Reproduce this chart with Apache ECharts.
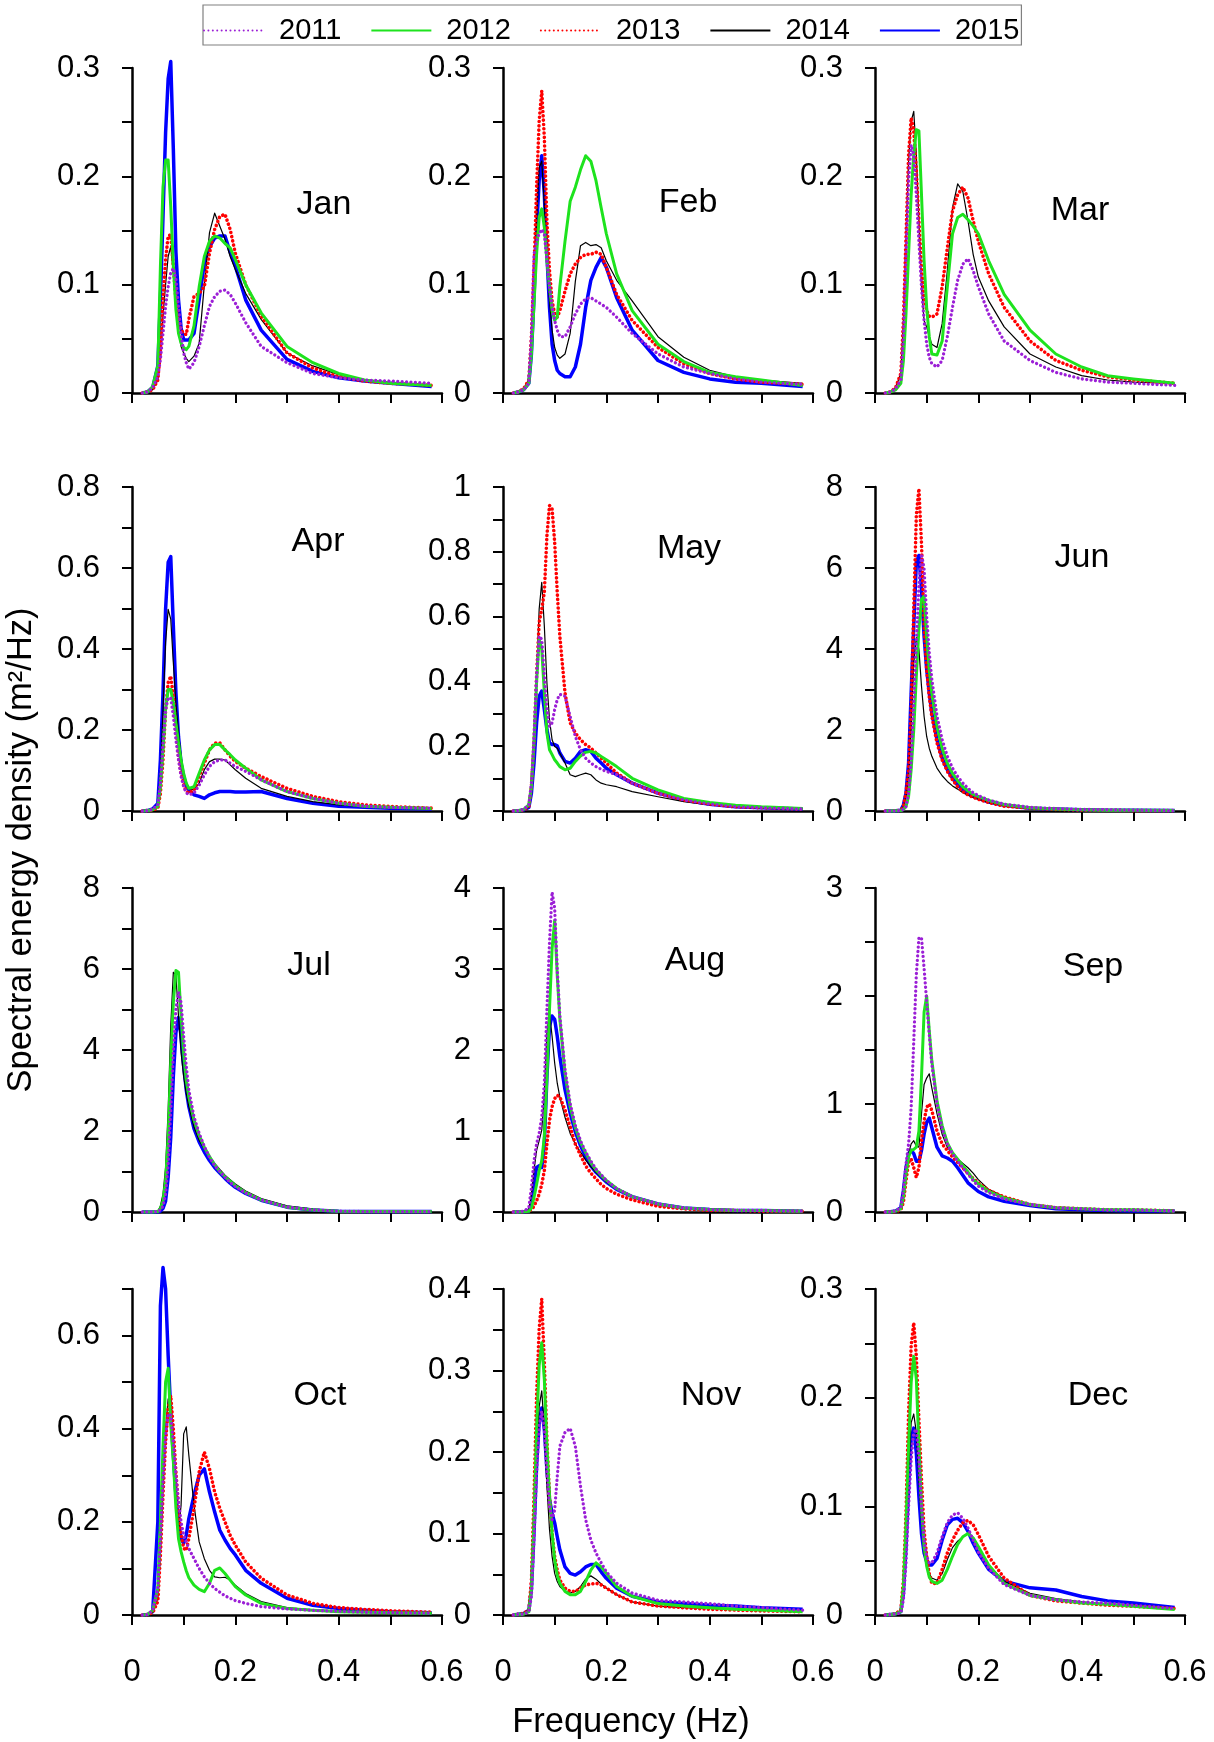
<!DOCTYPE html>
<html><head><meta charset="utf-8">
<script src="https://cdn.jsdelivr.net/npm/echarts@6/dist/echarts.min.js"></script>
<style>html,body{margin:0;padding:0;background:#fff}#c{width:1214px;height:1742px}</style>
</head><body><div id="c"></div>
<script>
// ---------------- DATA ----------------
const FREQ = [0.02,0.03,0.04, 0.05,0.055,0.06,0.065,0.07,0.075,0.08,0.085,0.09,0.095,0.1,0.105,0.11, 0.12,0.13,0.14,0.15,0.16,0.17,0.18,0.19,0.2, 0.22,0.25,0.3,0.35,0.4,0.45,0.5,0.58];
const YEARS = ['2011','2012','2013','2014','2015'];
const MONTHS = ['Jan','Feb','Mar','Apr','May','Jun','Jul','Aug','Sep','Oct','Nov','Dec'];
// each month: rows = 2011, 2012, 2013, 2014, 2015
const JAN = [
 [0,0.001,0.005, 0.015,0.031,0.055,0.08,0.098,0.111,0.115,0.105,0.08,0.055,0.037,0.028,0.022, 0.028,0.043,0.062,0.08,0.089,0.094,0.095,0.091,0.083, 0.065,0.043,0.028,0.018,0.014,0.012,0.011,0.009],
 [0,0.001,0.006, 0.025,0.117,0.19,0.215,0.215,0.172,0.117,0.077,0.055,0.046,0.042,0.04,0.043, 0.062,0.098,0.126,0.14,0.145,0.143,0.138,0.134,0.123, 0.1,0.074,0.043,0.028,0.018,0.012,0.009,0.007],
 [0,0.001,0.003, 0.012,0.04,0.086,0.123,0.145,0.146,0.117,0.086,0.068,0.058,0.055,0.054,0.068, 0.089,0.092,0.098,0.129,0.151,0.163,0.165,0.151,0.129, 0.1,0.071,0.037,0.023,0.015,0.011,0.009,0.007],
 [0,0.001,0.003, 0.012,0.031,0.071,0.1,0.126,0.135,0.111,0.08,0.058,0.043,0.037,0.032,0.029, 0.034,0.046,0.1,0.148,0.166,0.154,0.142,0.126,0.114, 0.092,0.068,0.037,0.025,0.017,0.012,0.009,0.006],
 [0,0.001,0.005, 0.025,0.086,0.163,0.24,0.29,0.306,0.225,0.13,0.086,0.06,0.049,0.049,0.049, 0.055,0.086,0.12,0.135,0.143,0.145,0.145,0.13,0.117, 0.086,0.058,0.031,0.02,0.014,0.011,0.009,0.006]
];
const FEB = [
 [0,0.001,0.003, 0.009,0.052,0.128,0.14,0.147,0.151,0.147,0.122,0.098,0.079,0.067,0.058,0.052, 0.052,0.061,0.073,0.082,0.087,0.088,0.085,0.082,0.079, 0.07,0.055,0.036,0.024,0.018,0.013,0.01,0.008],
 [0,0.001,0.003, 0.009,0.036,0.082,0.128,0.162,0.17,0.153,0.122,0.098,0.076,0.067,0.07,0.098, 0.14,0.177,0.19,0.206,0.219,0.214,0.196,0.171,0.147, 0.11,0.076,0.045,0.029,0.019,0.015,0.012,0.007],
 [0,0.001,0.004, 0.012,0.052,0.113,0.19,0.251,0.279,0.236,0.159,0.113,0.085,0.073,0.07,0.076, 0.094,0.11,0.119,0.125,0.128,0.128,0.13,0.128,0.116, 0.091,0.067,0.042,0.027,0.018,0.013,0.01,0.008],
 [0,0.001,0.004, 0.012,0.042,0.098,0.159,0.208,0.214,0.174,0.122,0.085,0.058,0.042,0.035,0.032, 0.036,0.055,0.103,0.136,0.139,0.136,0.137,0.134,0.122, 0.104,0.085,0.052,0.033,0.021,0.015,0.012,0.009],
 [0,0.001,0.003, 0.009,0.036,0.088,0.15,0.196,0.219,0.183,0.128,0.079,0.045,0.03,0.021,0.018, 0.015,0.015,0.024,0.045,0.079,0.104,0.116,0.125,0.116, 0.088,0.058,0.03,0.019,0.013,0.01,0.009,0.006]
];
const MAR = [
 [0,0.001,0.004, 0.012,0.052,0.128,0.196,0.229,0.22,0.183,0.14,0.098,0.067,0.045,0.033,0.027, 0.024,0.03,0.052,0.079,0.104,0.119,0.124,0.113,0.098, 0.073,0.048,0.03,0.019,0.013,0.01,0.009,0.007],
 [0,0.001,0.003, 0.009,0.03,0.073,0.128,0.183,0.22,0.243,0.242,0.183,0.122,0.079,0.052,0.036, 0.035,0.048,0.098,0.147,0.162,0.165,0.16,0.154,0.147, 0.122,0.091,0.058,0.036,0.024,0.016,0.013,0.009],
 [0,0.001,0.005, 0.018,0.067,0.144,0.22,0.254,0.242,0.205,0.159,0.116,0.088,0.076,0.071,0.07, 0.073,0.098,0.134,0.168,0.183,0.19,0.18,0.159,0.14, 0.11,0.079,0.048,0.03,0.021,0.015,0.012,0.009],
 [0,0.001,0.005, 0.018,0.067,0.144,0.214,0.251,0.26,0.22,0.159,0.098,0.067,0.061,0.052,0.045, 0.042,0.064,0.113,0.171,0.193,0.186,0.159,0.128,0.107, 0.085,0.061,0.036,0.024,0.016,0.012,0.01,0.009],
 []
];
const APR = [
 [0,0.001,0.004, 0.015,0.069,0.168,0.25,0.279,0.279,0.234,0.176,0.126,0.085,0.06,0.045,0.04, 0.044,0.064,0.089,0.11,0.122,0.126,0.126,0.118,0.11, 0.098,0.077,0.048,0.031,0.019,0.012,0.009,0.007],
 [0,0.001,0.003, 0.011,0.06,0.151,0.25,0.3,0.3,0.267,0.217,0.168,0.126,0.093,0.069,0.056, 0.06,0.093,0.126,0.151,0.164,0.164,0.151,0.139,0.126, 0.106,0.077,0.048,0.031,0.019,0.012,0.009,0.006],
 [0,0.001,0.002, 0.007,0.044,0.126,0.25,0.317,0.333,0.283,0.201,0.135,0.093,0.064,0.048,0.044, 0.052,0.085,0.118,0.151,0.168,0.168,0.151,0.135,0.122, 0.106,0.085,0.056,0.036,0.023,0.015,0.011,0.007],
 [0,0.001,0.003, 0.011,0.085,0.25,0.416,0.498,0.474,0.366,0.267,0.193,0.135,0.093,0.069,0.056, 0.052,0.069,0.102,0.122,0.128,0.128,0.126,0.114,0.102, 0.081,0.056,0.036,0.023,0.015,0.011,0.008,0.006],
 [0,0.001,0.005, 0.019,0.126,0.292,0.498,0.614,0.628,0.457,0.292,0.184,0.118,0.085,0.064,0.052, 0.04,0.036,0.031,0.04,0.045,0.048,0.048,0.048,0.047, 0.047,0.048,0.031,0.019,0.012,0.009,0.007,0.005]
];
const MAY = [
 [0,0.001,0.005, 0.019,0.086,0.23,0.416,0.54,0.53,0.416,0.313,0.261,0.272,0.313,0.344,0.36, 0.354,0.292,0.23,0.189,0.163,0.148,0.137,0.129,0.122, 0.112,0.086,0.055,0.034,0.021,0.013,0.01,0.006],
 [0,0.001,0.005, 0.019,0.075,0.21,0.396,0.53,0.499,0.365,0.241,0.189,0.174,0.158,0.148,0.137, 0.127,0.132,0.153,0.17,0.181,0.184,0.179,0.168,0.158, 0.137,0.101,0.065,0.039,0.026,0.018,0.013,0.008],
 [0,0.001,0.003, 0.013,0.075,0.21,0.416,0.582,0.623,0.675,0.85,0.943,0.933,0.83,0.675,0.54, 0.365,0.272,0.241,0.22,0.205,0.194,0.179,0.163,0.148, 0.117,0.086,0.055,0.034,0.022,0.013,0.01,0.006],
 [0,0.001,0.003, 0.013,0.086,0.23,0.416,0.623,0.706,0.571,0.396,0.282,0.22,0.199,0.194,0.179, 0.148,0.112,0.106,0.112,0.117,0.112,0.096,0.086,0.081, 0.075,0.06,0.044,0.029,0.019,0.013,0.01,0.007],
 [0,0.001,0.003, 0.011,0.055,0.148,0.272,0.354,0.37,0.313,0.251,0.21,0.205,0.205,0.201,0.179, 0.153,0.148,0.163,0.184,0.189,0.184,0.163,0.148,0.132, 0.112,0.086,0.055,0.034,0.021,0.013,0.01,0.006]
];
const JUN = [
 [0,0.002,0.005, 0.01,0.04,0.11,0.44,1.26,2.67,4.16,5.56,6.35,5.98,4.82,3.91,3.25, 2.34,1.76,1.35,1.06,0.85,0.69,0.56,0.45,0.38, 0.27,0.17,0.09,0.06,0.04,0.03,0.02,0.01],
 [0,0.002,0.005, 0.01,0.04,0.11,0.36,1.02,2.0,3.33,4.49,5.23,5.3,4.32,3.5,2.92, 2.09,1.55,1.18,0.93,0.75,0.6,0.5,0.41,0.36, 0.26,0.16,0.08,0.05,0.03,0.02,0.02,0.01],
 [0,0.002,0.008, 0.02,0.1,0.44,1.0,2.5,5.0,7.3,7.96,6.6,4.57,3.5,2.83,2.34, 1.68,1.26,0.98,0.77,0.6,0.48,0.4,0.34,0.29, 0.21,0.12,0.07,0.04,0.02,0.02,0.01,0.01],
 [0,0.002,0.008, 0.02,0.11,0.36,0.85,2.09,3.66,4.28,3.99,3.08,2.34,1.84,1.55,1.35, 1.06,0.87,0.73,0.62,0.54,0.45,0.39,0.34,0.29, 0.21,0.14,0.07,0.05,0.03,0.02,0.02,0.01],
 [0,0.002,0.008, 0.02,0.15,0.44,1.18,2.92,4.57,6.14,6.31,5.48,4.32,3.5,2.92,2.42, 1.76,1.31,1.02,0.81,0.64,0.52,0.42,0.36,0.31, 0.22,0.14,0.07,0.05,0.03,0.02,0.02,0.01]
];
const JUL = [
 [0,0.001,0.003, 0.01,0.05,0.15,0.44,1.19,2.52,3.93,5.01,5.42,5.17,4.34,3.6,3.01, 2.35,1.94,1.62,1.35,1.15,1.0,0.86,0.73,0.63, 0.47,0.3,0.12,0.05,0.02,0.01,0.01,0.01],
 [0,0.001,0.003, 0.01,0.09,0.27,0.77,1.85,3.68,5.17,5.96,5.92,4.84,3.93,3.26,2.85, 2.27,1.89,1.6,1.37,1.17,1.0,0.87,0.76,0.65, 0.48,0.3,0.12,0.05,0.02,0.01,0.01,0.01],
 [],
 [0,0.001,0.005, 0.02,0.15,0.44,1.1,2.52,4.59,5.92,5.84,4.84,3.93,3.35,2.93,2.6, 2.1,1.77,1.56,1.37,1.2,1.05,0.91,0.8,0.69, 0.52,0.33,0.15,0.07,0.03,0.02,0.02,0.01],
 [0,0.001,0.002, 0.005,0.02,0.09,0.27,0.86,1.85,3.35,4.43,4.8,4.34,3.6,3.01,2.6, 2.06,1.73,1.48,1.27,1.1,0.96,0.83,0.71,0.61, 0.46,0.29,0.12,0.05,0.02,0.01,0.01,0.01]
];
const AUG = [
 [0,0.002,0.01, 0.05,0.3,0.63,0.84,0.97,1.17,1.59,2.5,3.33,3.95,3.75,3.0,2.42, 1.76,1.34,1.07,0.88,0.74,0.63,0.53,0.46,0.39, 0.29,0.19,0.1,0.05,0.03,0.02,0.02,0.01],
 [0,0.001,0.003, 0.01,0.05,0.18,0.34,0.51,0.63,0.93,1.67,2.5,3.25,3.6,2.92,2.38, 1.71,1.3,1.04,0.86,0.73,0.61,0.52,0.45,0.39, 0.29,0.19,0.1,0.05,0.03,0.02,0.02,0.01],
 [0,0.001,0.002, 0.01,0.03,0.07,0.14,0.22,0.34,0.51,0.84,1.13,1.3,1.4,1.44,1.42, 1.26,1.05,0.84,0.7,0.57,0.48,0.41,0.34,0.29, 0.22,0.15,0.07,0.04,0.02,0.02,0.01,0.01],
 [0,0.002,0.008, 0.03,0.22,0.51,0.76,0.88,1.01,1.46,2.21,2.46,2.17,1.84,1.59,1.42, 1.17,0.97,0.84,0.74,0.64,0.56,0.49,0.43,0.37, 0.28,0.19,0.1,0.05,0.03,0.02,0.02,0.01],
 [0,0.001,0.003, 0.01,0.1,0.34,0.55,0.57,0.55,0.84,1.67,2.29,2.42,2.38,2.17,1.92, 1.51,1.22,0.99,0.82,0.68,0.57,0.49,0.43,0.37, 0.28,0.19,0.1,0.05,0.03,0.02,0.02,0.01]
];
const SEP = [
 [0,0.002,0.01, 0.04,0.2,0.44,0.63,0.97,1.58,2.2,2.54,2.54,2.26,1.95,1.65,1.37, 1.0,0.77,0.63,0.54,0.47,0.41,0.35,0.29,0.24, 0.18,0.12,0.07,0.04,0.03,0.02,0.02,0.01],
 [0,0.001,0.008, 0.03,0.14,0.35,0.51,0.57,0.58,0.6,0.75,1.25,1.85,2.0,1.68,1.4, 1.03,0.8,0.64,0.55,0.49,0.43,0.37,0.3,0.26, 0.19,0.13,0.07,0.04,0.03,0.02,0.02,0.01],
 [0,0.001,0.005, 0.02,0.09,0.29,0.46,0.49,0.41,0.32,0.41,0.66,0.84,0.97,1.0,0.94, 0.75,0.63,0.57,0.51,0.46,0.41,0.36,0.31,0.27, 0.2,0.14,0.07,0.04,0.03,0.02,0.02,0.01],
 [0,0.001,0.008, 0.03,0.17,0.38,0.54,0.63,0.66,0.61,0.6,0.91,1.18,1.24,1.28,1.15, 0.91,0.72,0.6,0.54,0.49,0.45,0.41,0.36,0.3, 0.21,0.14,0.07,0.04,0.03,0.02,0.02,0.01],
 [0,0.002,0.01, 0.04,0.2,0.41,0.54,0.57,0.54,0.47,0.47,0.57,0.72,0.83,0.87,0.78, 0.6,0.52,0.5,0.47,0.41,0.34,0.27,0.23,0.19, 0.14,0.1,0.06,0.03,0.02,0.015,0.01,0.01]
];
const OCT = [
 [0,0.001,0.01, 0.057,0.164,0.286,0.386,0.432,0.429,0.371,0.3,0.243,0.2,0.171,0.157,0.143, 0.121,0.1,0.082,0.068,0.057,0.049,0.041,0.036,0.031, 0.025,0.018,0.013,0.01,0.008,0.006,0.005,0.004],
 [0,0.001,0.01, 0.057,0.2,0.36,0.5,0.53,0.41,0.33,0.23,0.164,0.136,0.114,0.095,0.08, 0.064,0.055,0.05,0.068,0.096,0.101,0.089,0.075,0.061, 0.043,0.025,0.014,0.01,0.007,0.006,0.005,0.004],
 [0,0.001,0.005, 0.029,0.129,0.257,0.371,0.443,0.471,0.4,0.307,0.229,0.171,0.143,0.139,0.164, 0.229,0.307,0.35,0.314,0.264,0.229,0.2,0.171,0.15, 0.114,0.079,0.043,0.025,0.016,0.012,0.009,0.006],
 [0,0.001,0.006, 0.036,0.129,0.271,0.4,0.464,0.45,0.343,0.229,0.179,0.236,0.389,0.404,0.343, 0.236,0.157,0.121,0.096,0.082,0.08,0.081,0.075,0.064, 0.046,0.029,0.016,0.011,0.009,0.007,0.006,0.004],
 [0,0.001,0.007, 0.2,0.664,0.746,0.7,0.557,0.436,0.343,0.257,0.2,0.164,0.154,0.171,0.207, 0.257,0.3,0.314,0.264,0.221,0.182,0.161,0.143,0.129, 0.096,0.068,0.036,0.021,0.014,0.01,0.007,0.005]
];
const NOV = [
 [0,0.001,0.001, 0.004,0.023,0.092,0.174,0.232,0.25,0.228,0.174,0.133,0.117,0.129,0.17,0.207, 0.224,0.229,0.207,0.158,0.117,0.092,0.076,0.064,0.053, 0.039,0.027,0.018,0.016,0.014,0.011,0.009,0.006],
 [0,0.001,0.001, 0.004,0.031,0.117,0.228,0.306,0.334,0.289,0.207,0.146,0.101,0.068,0.049,0.039, 0.029,0.025,0.025,0.029,0.041,0.055,0.064,0.059,0.051, 0.035,0.023,0.014,0.011,0.009,0.007,0.006,0.004],
 [0,0.001,0.002, 0.006,0.043,0.146,0.269,0.351,0.388,0.31,0.215,0.146,0.101,0.072,0.055,0.043, 0.033,0.029,0.029,0.033,0.037,0.038,0.039,0.037,0.033, 0.025,0.016,0.011,0.009,0.007,0.006,0.005,0.004],
 [0,0.001,0.002, 0.006,0.031,0.105,0.195,0.256,0.275,0.228,0.158,0.105,0.072,0.051,0.041,0.035, 0.029,0.027,0.029,0.035,0.044,0.048,0.044,0.038,0.033, 0.025,0.016,0.011,0.009,0.008,0.007,0.006,0.005],
 [0,0.001,0.002, 0.006,0.031,0.101,0.183,0.236,0.254,0.228,0.178,0.142,0.125,0.113,0.096,0.08, 0.059,0.051,0.049,0.053,0.059,0.062,0.062,0.053,0.045, 0.033,0.023,0.016,0.014,0.012,0.011,0.009,0.007]
];
const DEC = [
 [0,0.0005,0.001, 0.002,0.014,0.048,0.1,0.143,0.168,0.171,0.143,0.1,0.069,0.054,0.048,0.048, 0.057,0.072,0.085,0.092,0.094,0.089,0.08,0.069,0.058, 0.043,0.028,0.018,0.014,0.012,0.011,0.009,0.006],
 [0,0.0005,0.001, 0.003,0.026,0.082,0.155,0.214,0.238,0.217,0.155,0.1,0.063,0.045,0.035,0.031, 0.029,0.032,0.042,0.054,0.065,0.072,0.075,0.071,0.063, 0.046,0.029,0.018,0.014,0.011,0.01,0.008,0.005],
 [0,0.0005,0.001, 0.005,0.032,0.094,0.186,0.248,0.269,0.238,0.18,0.125,0.078,0.054,0.038,0.029, 0.029,0.042,0.057,0.069,0.078,0.085,0.087,0.083,0.074, 0.054,0.034,0.018,0.013,0.011,0.009,0.008,0.006],
 [0,0.0005,0.001, 0.003,0.023,0.069,0.131,0.177,0.185,0.168,0.125,0.085,0.057,0.045,0.038,0.034, 0.032,0.038,0.051,0.062,0.068,0.072,0.075,0.071,0.063, 0.046,0.031,0.02,0.015,0.012,0.01,0.009,0.006],
 [0,0.0005,0.001, 0.003,0.02,0.063,0.118,0.162,0.172,0.149,0.109,0.075,0.057,0.049,0.046,0.046, 0.052,0.069,0.083,0.088,0.089,0.085,0.077,0.066,0.057, 0.042,0.031,0.025,0.023,0.017,0.013,0.011,0.007]
];
const Y_MAX = [0.3,0.3,0.3, 0.8,1,8, 8,4,3, 0.7,0.4,0.3];
const Y_TICK = [0.05,0.05,0.05, 0.1,0.1,1, 1,0.5,0.5, 0.1,0.05,0.05];
const Y_LABEL_STEP = [0.1,0.1,0.1, 0.2,0.2,2, 2,1,1, 0.2,0.1,0.1];
const X_MAX = 0.6, X_TICK = 0.1, X_LABEL_STEP = 0.2;

// ---------------- LAYOUT / STYLE ----------------
const FONT = "'Liberation Sans', Arial, Helvetica, sans-serif";
const GRID_LEFT = [132, 503, 875];
const GRID_TOP = [68, 487, 888, 1289];
const GRID_H = [325, 324, 324, 326];
const GRID_W = 310;
const MONTH_POS = [[324,205],[688,203],[1080,211],[318,542],[689,549],[1082,558],[309,966],[695,961],[1093,967],[320,1396],[711,1396],[1098,1396]];
const STYLE = {
  '2011': {color:'#9B1FD6', width:3.3, type:[0.01,4.4], cap:'round'},
  '2012': {color:'#1EE31E', width:3, type:'solid', cap:'butt'},
  '2013': {color:'#FF0000', width:3.6, type:[0.01,4.3], cap:'round'},
  '2014': {color:'#000000', width:1.2, type:'solid', cap:'butt'},
  '2015': {color:'#0000FF', width:3.5, type:'solid', cap:'butt'}
};
const DRAW_ORDER = [4,3,2,1,0];
const TICK_FONT = 31, MONTH_FONT = 34, TITLE_FONT = 34.5, LEGEND_FONT = 29;

function isMult(v, step){ const q = v/step; return Math.abs(q - Math.round(q)) < 1e-6; }
function fmt(v){ return String(+v.toFixed(3)); }

const DATA = [JAN,FEB,MAR,APR,MAY,JUN,JUL,AUG,SEP,OCT,NOV,DEC];
const grids=[], xAxes=[], yAxes=[], series=[], graphics=[];
DATA.forEach((panel, i) => {
  const r = Math.floor(i/3), c = i%3;
  grids.push({left:GRID_LEFT[c], top:GRID_TOP[r], width:GRID_W, height:GRID_H[r], containLabel:false, outerBoundsMode:'none'});
  xAxes.push({
    gridIndex:i, type:'value', min:0, max:X_MAX, interval:X_TICK,
    axisLine:{show:true, onZero:false, lineStyle:{color:'#000', width:2.5}},
    axisTick:{show:true, inside:false, length:10, lineStyle:{color:'#000', width:2}},
    splitLine:{show:false},
    axisLabel:{show:r===3, margin:42, fontSize:TICK_FONT, fontFamily:FONT, color:'#000',
      formatter: v => isMult(v, X_LABEL_STEP) ? fmt(v) : ''}
  });
  const step = Y_LABEL_STEP[i];
  yAxes.push({
    gridIndex:i, type:'value', min:0, max:Y_MAX[i], interval:Y_TICK[i],
    axisLine:{show:true, onZero:false, lineStyle:{color:'#000', width:2.5}},
    axisTick:{show:true, inside:false, length:10, lineStyle:{color:'#000', width:2}},
    splitLine:{show:false},
    axisLabel:{show:true, margin:32, fontSize:TICK_FONT, fontFamily:FONT, color:'#000',
      formatter: v => isMult(v, step) ? fmt(v) : ''}
  });
  DRAW_ORDER.forEach(j => {
    const vals = panel[j];
    if (!vals || !vals.length) return;
    const st = STYLE[YEARS[j]];
    series.push({
      type:'line', name:YEARS[j], xAxisIndex:i, yAxisIndex:i,
      data: FREQ.map((f,k) => [f, vals[k]]),
      symbol:'none', clip:false, animation:false, silent:true,
      color: st.color,
      lineStyle:{color:st.color, width:st.width, type:st.type, cap:st.cap, join:'round'}
    });
  });
  graphics.push({type:'text', x:MONTH_POS[i][0], y:MONTH_POS[i][1],
    style:{text:MONTHS[i], fontSize:MONTH_FONT, fontFamily:FONT, fill:'#000', textAlign:'center', textVerticalAlign:'middle', verticalAlign:'middle'}});
});
graphics.push({type:'text', x:21, y:850, rotation:Math.PI/2,
  style:{text:'Spectral energy density (m\u00B2/Hz)', fontSize:TITLE_FONT, fontFamily:FONT, fill:'#000', textAlign:'center', textVerticalAlign:'middle', verticalAlign:'middle'}});
graphics.push({type:'text', x:631, y:1722,
  style:{text:'Frequency (Hz)', fontSize:TITLE_FONT, fontFamily:FONT, fill:'#000', textAlign:'center', textVerticalAlign:'middle', verticalAlign:'middle'}});

const chart = echarts.init(document.getElementById('c'), null, {renderer:'canvas'});
chart.setOption({
  animation:false,
  backgroundColor:'#fff',
  legend:{
    data:YEARS, left:203, top:5, orient:'horizontal', selectedMode:false,
    itemWidth:60, itemHeight:1, itemGap:29,
    padding:[11,2,0,0], borderColor:'#808080', borderWidth:1.2,
    itemStyle:{opacity:0},
    textStyle:{fontSize:LEGEND_FONT, fontFamily:FONT, color:'#000', padding:[0,0,0,10]}
  },
  grid:grids, xAxis:xAxes, yAxis:yAxes, series:series, graphic:graphics
});
</script>
</body></html>
